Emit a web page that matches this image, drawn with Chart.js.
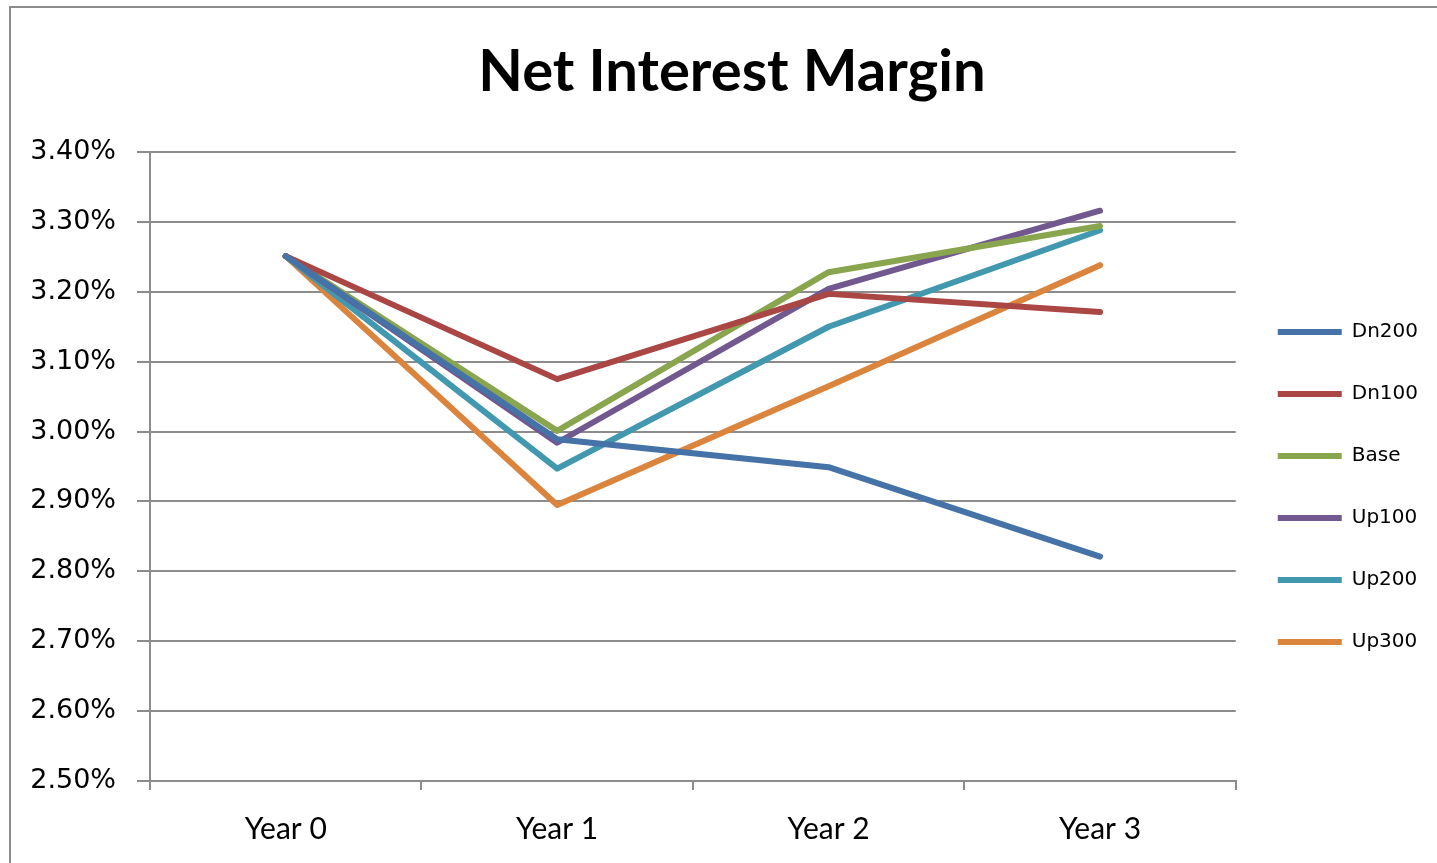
<!DOCTYPE html>
<html>
<head>
<meta charset="utf-8">
<script src="https://cdn.jsdelivr.net/npm/chart.js@4"></script>
<style>
  html, body { margin: 0; padding: 0; background: #fff; }
  #wrap { width: 1437px; height: 863px; }
</style>
</head>
<body>
<div id="wrap"><canvas id="nimChart"></canvas></div>
<script>
// Datos (en %)
const years = ["Year 0", "Year 1", "Year 2", "Year 3"];
const dn200 = [3.251, 2.989, 2.949, 2.821];
const dn100 = [3.251, 3.075, 3.197, 3.171];
const base = [3.251, 3.001, 3.228, 3.294];
const up100 = [3.251, 2.984, 3.204, 3.316];
const up200 = [3.251, 2.947, 3.150, 3.288];
const up300 = [3.251, 2.895, 3.065, 3.238];

const gris = '#8c8c8c';

function serie(label, data, color) {
    return {
        label: label,
        data: data,
        borderColor: color,
        backgroundColor: color,
        borderWidth: 6,
        borderCapStyle: 'round',
        borderJoinStyle: 'round',
        pointRadius: 0,
        pointHoverRadius: 0,
        tension: 0
    };
}

// Marco exterior gris + titulo un poco a la derecha
const marco = {
    id: 'marco',
    afterLayout(chart) {
        if (chart.titleBlock) {
            chart.titleBlock.left += 18;
            chart.titleBlock.right += 18;
        }
    },
    beforeDraw(chart) {
        const ctx = chart.ctx;
        ctx.save();
        ctx.fillStyle = '#fff';
        ctx.fillRect(0, 0, chart.width, chart.height);
        ctx.strokeStyle = gris;
        ctx.lineWidth = 2;
        ctx.strokeRect(10, 7, chart.width + 20, chart.height + 20);
        ctx.restore();
    }
};

const ctx = document.getElementById('nimChart').getContext('2d');
const chart = new Chart(ctx, {
    type: 'line',
    data: {
        labels: years,
        datasets: [
            serie('Dn200', dn200, '#4572A7'),
            serie('Dn100', dn100, '#AA4643'),
            serie('Base', base, '#89A54E'),
            serie('Up100', up100, '#71588F'),
            serie('Up200', up200, '#4198AF'),
            serie('Up300', up300, '#DB843D')
        ]
    },
    options: {
        responsive: true,
        maintainAspectRatio: false,
        animation: false,
        layout: { padding: { top: 0, right: 9, bottom: 0, left: 0 } },
        plugins: {
            title: {
                display: true,
                text: 'Net Interest Margin',
                color: '#000',
                font: { family: 'Lato', size: 58, weight: 'bold' },
                padding: { top: 37, bottom: 45.4 }
            },
            legend: {
                position: 'right',
                fullSize: false,
                title: {
                    display: true,
                    text: ' ',
                    padding: 0,
                    font: { size: 34 }
                },
                labels: {
                    usePointStyle: true,
                    pointStyle: 'line',
                    pointStyleWidth: 64,
                    padding: 42,
                    color: '#000',
                    font: { family: 'DejaVu Sans', size: 20 }
                }
            },
            tooltip: { enabled: false }
        },
        scales: {
            x: {
                offset: true,
                grid: {
                    offset: true,
                    drawOnChartArea: false,
                    drawTicks: true,
                    tickLength: 9,
                    color: gris,
                    lineWidth: 2
                },
                border: { display: true, color: gris, width: 2 },
                ticks: {
                    color: '#000',
                    padding: 21,
                    font: { family: 'Lato', size: 30 }
                },
                afterFit(scale) { scale.height = 82; }
            },
            y: {
                min: 2.5,
                max: 3.4,
                grid: {
                    color: gris,
                    lineWidth: 2,
                    tickLength: 13
                },
                border: { display: true, color: gris, width: 2 },
                ticks: {
                    stepSize: 0.1,
                    color: '#000',
                    padding: 21,
                    font: { family: 'DejaVu Sans', size: 27 },
                    callback: v => v.toFixed(2) + '%'
                },
                afterFit(scale) { scale.width = 150; }
            }
        }
    },
    plugins: [marco]
});
</script>
</body>
</html>
